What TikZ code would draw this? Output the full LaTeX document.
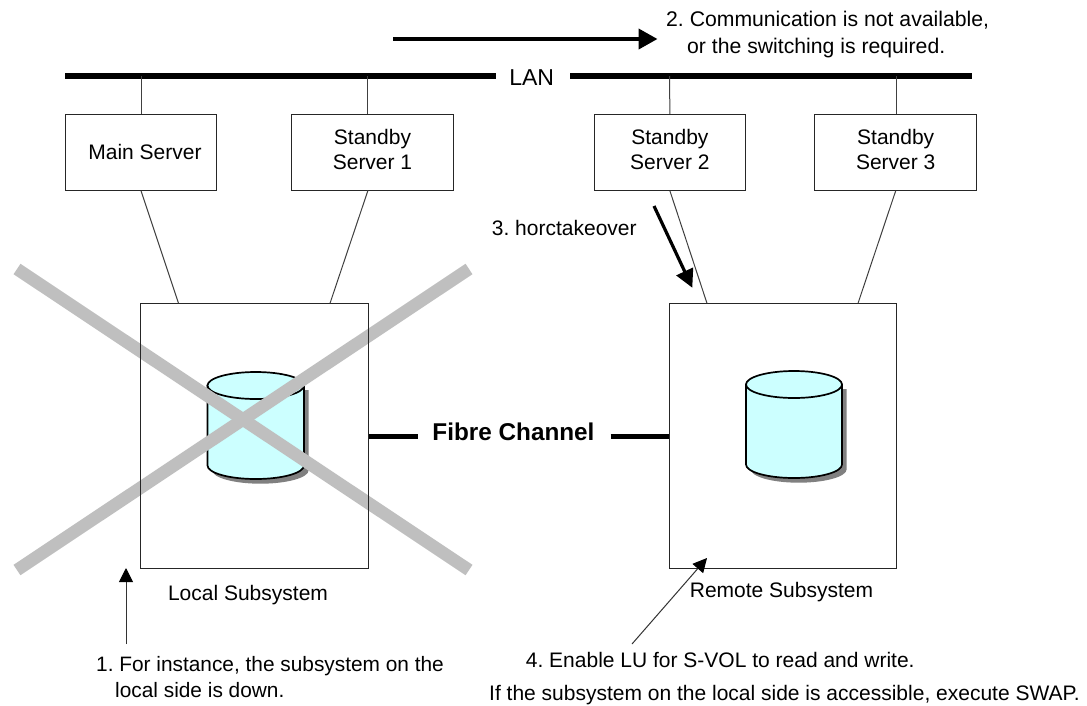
\documentclass[tikz,border=0pt]{standalone}
\usepackage{fontspec}
\setmainfont{Liberation Sans}
\usetikzlibrary{arrows.meta}
\definecolor{cyl}{HTML}{CCFFFF}
\definecolor{xgray}{HTML}{BFBFBF}
\frenchspacing
\tikzset{
  x=1pt,y=-1pt,
  box/.style={draw=black!85,line width=1pt,fill=white,inner sep=0pt,align=center,font=\fontsize{21}{25}\selectfont},
  sys/.style={draw=black!85,line width=1pt,inner sep=0pt},
  lbl/.style={inner sep=0pt,font=\fontsize{21}{26.3}\selectfont,align=left},
  thin link/.style={draw=black!75,line width=1pt},
  bus/.style={draw=black,line width=6pt},
  fibre/.style={draw=black,line width=5pt},
  cross/.style={draw=xgray,line width=12.5pt},
  bigarrow/.style={draw=black,line width=4pt,-{Triangle[length=19pt,width=20pt]}},
  midarrow/.style={draw=black,line width=3.2pt,-{Triangle[length=18pt,width=18pt]}},
  smallarrow/.style={draw=black!80,line width=1pt,-{Triangle[length=14pt,width=14pt,black]}},
}
\newcommand{\cylpath}[4]{%
  (#1,#3+13.5) -- (#1,#4-13.5) arc[start angle=180,end angle=0,x radius=(#2-#1)/2,y radius=13.5] -- (#2,#3+13.5) -- cycle}
\newcommand{\cylinder}[4]{% left right top bottom
  \fill[black!50,shift={(4.7,4.7)}] \cylpath{#1}{#2}{#3}{#4};
  \draw[fill=cyl,line width=1.7pt] \cylpath{#1}{#2}{#3}{#4};
  \draw[fill=cyl,line width=1.7pt] ({(#1+#2)/2},#3+13.5) ellipse[x radius=(#2-#1)/2,y radius=13.5];
}
\newcommand{\lastln}{\rule[-5pt]{0pt}{5pt}}
\begin{document}
\begin{tikzpicture}
\useasboundingbox (0,0) rectangle (1087,705);
\fill[white] (0,0) rectangle (1087,705);
% coordinates
\coordinate (busL) at (65,76);\coordinate (busR) at (972,76);
\coordinate (crossA) at (17,269);\coordinate (crossB) at (469,570);
\coordinate (crossC) at (469,269);\coordinate (crossD) at (17,570);
% servers
\node[box,minimum width=151.5pt,minimum height=76pt] (main) at (141,152.3) {\hspace*{8pt}Main Server};
\node[box,minimum width=161.5pt,minimum height=76pt] (sb1) at (372.5,152.3) {Standby\\Server 1\lastln};
\node[box,minimum width=151.7pt,minimum height=76pt] (sb2) at (669.9,152.3) {Standby\\Server 2\lastln};
\node[box,minimum width=162pt,minimum height=76pt] (sb3) at (895.7,152.3) {Standby\\Server 3\lastln};
% LAN
\node[lbl,anchor=base,font=\fontsize{23}{26}\selectfont] (lan) at (531.7,85) {LAN};
\coordinate (lanL) at (496,76);\coordinate (lanR) at (570,76);
\draw[bus] (busL) -- (lanL);
\draw[bus] (lanR) -- (busR);
\coordinate (t1) at (141,76);\coordinate (t2) at (367.5,76);\coordinate (t3) at (669.5,76);\coordinate (t4) at (896,76);
\coordinate (b2) at (367.5,114.3);\coordinate (b4) at (896,114.3);
\coordinate (s2) at (368,190.3);
\draw[thin link] (t1) -- (main.north);
\draw[thin link] (t2) -- (b2);
\draw[thin link] (t3) -- (sb2.north);
\draw[thin link] (t4) -- (b4);
% cylinders
\cylinder{207.5}{304}{372}{479}
\cylinder{746}{842}{371}{478}
% cross
\draw[cross] (crossA) -- (crossB);
\draw[cross] (crossC) -- (crossD);
% subsystems
\node[sys,minimum width=227.6pt,minimum height=265pt] (local) at (254.5,435.8) {};
\node[sys,minimum width=227pt,minimum height=265pt] (remote) at (782.8,435.8) {};
\coordinate (l1) at (178.5,303.3);\coordinate (l2) at (330,303.3);
\coordinate (r1) at (707,303.3);\coordinate (r2) at (858,303.3);
\draw[thin link] (main.south) -- (l1);
\draw[thin link] (s2) -- (l2);
\draw[thin link] (sb2.south) -- (r1);
\draw[thin link] (sb3.south) -- (r2);
% fibre
\node[lbl,anchor=base,font=\bfseries\fontsize{24.3}{26}\selectfont] (fc) at (513.5,440.7) {Fibre Channel};
\coordinate (fl) at (418,436.5);\coordinate (fr) at (610.5,436.5);
\draw[fibre] (local.east |- fl) -- (fl);
\draw[fibre] (fr) -- (remote.west |- fr);
% big arrows
\coordinate (a2s) at (393,39);\coordinate (a2e) at (657.5,39);
\draw[bigarrow] (a2s) -- (a2e);
\coordinate (a3s) at (654,206);\coordinate (a3e) at (692.3,287.7);
\draw[midarrow] (a3s) -- (a3e);
% small arrows
\coordinate (a1s) at (126,644);\coordinate (a1e) at (126,568);
\draw[smallarrow] (a1s) -- (a1e);
\coordinate (a4s) at (632,644);\coordinate (a4e) at (707,558);
\draw[smallarrow] (a4s) -- (a4e);
% labels
\node[lbl,anchor=north west,font=\fontsize{21.2}{26.3}\selectfont] (n2) at (666,11.2) {2. Communication is not available,\\\hspace*{21pt}or the switching is required.};
\node[lbl,anchor=base west] (n3) at (491.7,235) {3. horctakeover};
\node[lbl,anchor=base] (ls) at (248,600) {Local Subsystem};
\node[lbl,anchor=base] (rs) at (781.5,597) {Remote Subsystem};
\node[lbl,anchor=north west,font=\fontsize{20.85}{26}\selectfont] (n1) at (96,655.7) {1. For instance, the subsystem on the\\\hspace*{19pt}local side is down.};
\node[lbl,anchor=base west] (n4) at (525.7,667.7) {4. Enable LU for S-VOL to read and write.};
\node[lbl,anchor=base west] (n5) at (489,700) {If the subsystem on the local side is accessible, execute SWAP.};
\end{tikzpicture}
\end{document}
